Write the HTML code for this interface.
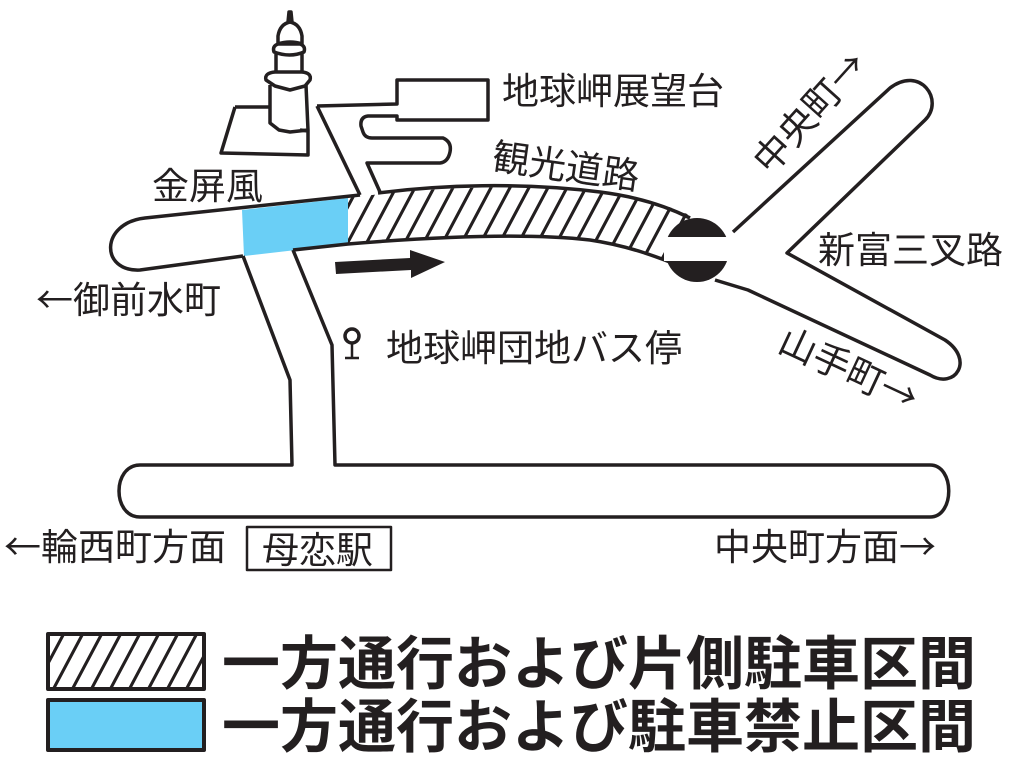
<!DOCTYPE html>
<html><head><meta charset="utf-8"><style>
html,body{margin:0;padding:0;background:#fff;}
svg{display:block;}
text{font-family:"Liberation Sans","Noto Sans CJK JP",sans-serif;fill:#231f20;}
.a{font-family:"Noto Sans CJK JP",sans-serif;}
</style></head><body>
<svg width="1021" height="757" viewBox="0 0 1021 757" xmlns="http://www.w3.org/2000/svg">
<defs>
<pattern id="h" patternUnits="userSpaceOnUse" width="19" height="60" patternTransform="skewX(-28)">
<rect width="19" height="60" fill="#fff"/><rect x="0" y="0" width="3.5" height="60" fill="#231f20"/>
</pattern>
<clipPath id="rd"><path d="M348,198 C420,188 520,183 600,192 C650,198 680,210 700,220 L700,275 C670,262 630,245 590,240 C520,233 420,238 348,244 Z"/></clipPath>
</defs>
<g fill="none" stroke="#231f20" stroke-width="3.5" stroke-linejoin="round">
<path d="M242,210 L348,198 L348,244 L244,256 Z" fill="#6acff6" stroke="none"/>
<rect x="340" y="170" width="370" height="120" fill="url(#h)" clip-path="url(#rd)" stroke="none"/>
<path d="M378,193 C440,185 520,182 600,192 C640,197 670,208 690,218"/>
<path d="M360,195 L145,218 C100,223 100,272 140,270 L243,256"/>
<path d="M293,250 L348,244 C420,238 520,232 590,240 C630,246 660,258 680,266"/>
<path d="M243,256 L290,380 L292,465 L140,465 C112,465 112,517 140,517 L930,517 C955,517 955,465 930,465 L335,465 L332,345 L293,250"/>
<path d="M317,106 L397,104 L397,80 L488,80 L488,120 L397,120 L397,116 L368,116 Q360,117 361,126 L363,132 Q365,138 372,138 L443,138 Q452,142 450,152 Q448,162 440,163 L367,163 L380,192"/>
<path d="M317,106 L360,195"/>
<path d="M235,107 L270,107 M300,130 L308,131 L308,155 L221,153 L235,107"/>
<path d="M270,85 L270,123 L279,130 L290,132 L308,130 L306,85"/>
<path d="M266,80 Q264,73 275,72 L302,72 Q312,73 310,80 L305,86 L290,90 L275,86 Z"/>
<path d="M276,72 L276,52 M302,72 L302,52 M274,52 Q272,46 278,44 L300,44 Q306,46 304,52 Q290,58 274,52 Z"/>
<path d="M278,44 L278,36 Q280,24 290,22 Q300,24 302,36 L302,44 Q290,40 278,44 M288,22 L289,12 L291,12 L292,22"/>
<path d="M733,232 L890,88 C920,65 945,100 925,120 L787,253 L945,340 C975,360 955,390 930,375 L748,290 L715,280"/>
<circle cx="697" cy="250" r="32" fill="#231f20" stroke="none"/>
<rect x="664" y="237" width="66" height="24" fill="#fff" stroke="none"/>
<circle cx="352" cy="336" r="7"/>
<path d="M352,343 L352,358 M345,358 L359,358" stroke-width="2.5"/>
<rect x="247" y="527" width="144" height="43" stroke-width="2.5"/>
<rect x="48" y="634" width="156" height="55" fill="url(#h)" stroke-width="4"/>
<rect x="48" y="700" width="156" height="50" fill="#6acff6" stroke-width="4"/>
</g>
<path d="M335,262 L410,258 L410,250 L445,262 L411,278 L411,270 L336,274 Z" fill="#231f20"/>
<g font-size="37">
<text x="502" y="104">地球岬展望台</text>
<text x="152" y="199">金屏風</text>
<text x="36" y="313"><tspan class="a">←</tspan>御前水町</text>
<text x="386" y="361">地球岬団地バス停</text>
<text x="818" y="263">新富三叉路</text>
<text x="4" y="560"><tspan class="a">←</tspan>輪西町方面</text>
<text x="262" y="563">母恋駅</text>
<text x="714" y="560">中央町方面<tspan class="a">→</tspan></text>
<text transform="translate(491,169) rotate(8)">観光道路</text>
<text transform="translate(770,176) rotate(-48)">中央町<tspan class="a">→</tspan></text>
<text transform="translate(776,350) rotate(25)">山手町<tspan class="a">→</tspan></text>
</g>
<g font-size="58" font-weight="bold">
<text x="222" y="684">一方通行および片側駐車区間</text>
<text x="222" y="747">一方通行および駐車禁止区間</text>
</g>
</svg>
</body></html>
